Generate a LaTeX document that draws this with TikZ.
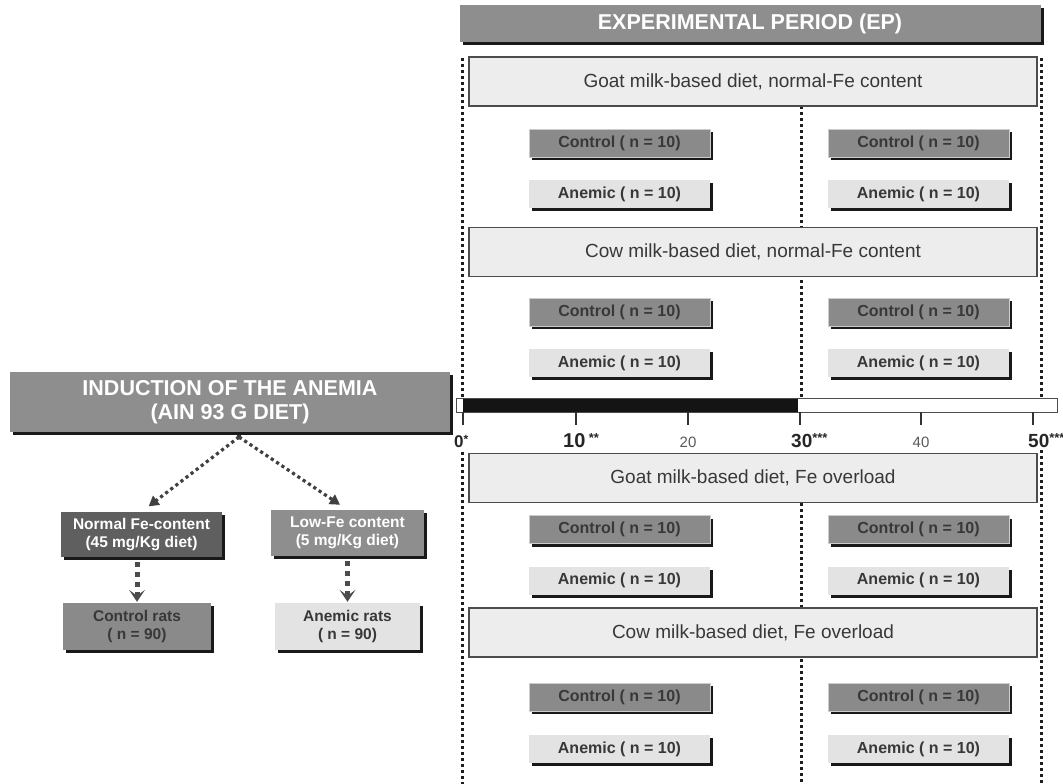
\documentclass[tikz,border=0pt]{standalone}
\usepackage{fontspec}
\setmainfont{Liberation Sans}
\usetikzlibrary{shadows,arrows.meta}
\definecolor{hdr}{HTML}{8E8E8E}
\definecolor{ctl}{HTML}{8A8A8A}
\definecolor{anm}{HTML}{E3E3E3}
\definecolor{diet}{HTML}{EDEDED}
\definecolor{nfe}{HTML}{5F5F5F}
\definecolor{txt}{HTML}{383838}
\definecolor{dots}{HTML}{1E1E1E}
\newcommand{\fs}[1]{\fontsize{#1}{#1}\selectfont}
\tikzset{
  shad/.style={drop shadow={shadow xshift=3pt,shadow yshift=-3pt,fill=black!90,opacity=1}},
  headbox/.style={shad,fill=hdr,text=white,font=\fs{21.5}\bfseries,align=center,inner sep=0pt},
  dietbox/.style={fill=diet,draw=black!70,line width=1.2pt,minimum width=568pt,minimum height=49pt,text=txt,font=\fs{19},inner sep=0pt},
  ctlbox/.style={shad,fill=ctl,draw=black!20,line width=0.4pt,minimum width=181pt,minimum height=28pt,text=txt,font=\fs{16}\bfseries,inner sep=0pt},
  anmbox/.style={shad,fill=anm,minimum width=181pt,minimum height=28pt,text=txt,font=\fs{16}\bfseries,inner sep=0pt},
  smallbox/.style={shad,align=center,font=\fs{15.5}\bfseries,inner sep=0pt},
  vdots/.style={draw=dots,line width=3pt,dash pattern=on 3pt off 3pt},
  thinarrow/.style={draw=black!75,line width=3.2pt,dash pattern=on 3.2pt off 3.2pt,-{Triangle[length=10pt,width=11pt]}},
  thickarrow/.style={draw=black!70,line width=5pt,dash pattern=on 5pt off 5pt,-{Stealth[length=12pt,width=16pt,inset=6pt,line width=0pt]}},
  tick/.style={draw=black!80,line width=1.3pt},
}
\begin{document}
\begin{tikzpicture}[x=1pt,y=-1pt]
\useasboundingbox (0,0) rectangle (1063,784);
% dotted vertical lines
\coordinate (l1) at (462,58); \coordinate (l2) at (462,398);
\coordinate (l3) at (462,452); \coordinate (l4) at (462,784);
\coordinate (m1) at (801,106); \coordinate (m2) at (801,398);
\coordinate (m3) at (801,503); \coordinate (m4) at (801,784);
\coordinate (r1) at (1041,58); \coordinate (r2) at (1041,402);
\coordinate (r3) at (1041,450); \coordinate (r4) at (1041,784);
\draw[vdots] (l1) -- (l2); \draw[vdots] (l3) -- (l4);
\draw[vdots] (m1) -- (m2); \draw[vdots] (m3) -- (m4);
\draw[vdots] (r1) -- (r2); \draw[vdots] (r3) -- (r4);

% header
\node[headbox,minimum width=581pt,minimum height=37pt] (ep) at (750,23.5) {EXPERIMENTAL PERIOD (EP)};

% diet boxes
\node[dietbox] (d1) at (753,81.5) {Goat milk-based diet, normal-Fe content};
\node[dietbox] (d2) at (753,252) {Cow milk-based diet, normal-Fe content};
\node[dietbox] (d3) at (753,478) {Goat milk-based diet, Fe overload};
\node[dietbox] (d4) at (753,632.5) {Cow milk-based diet, Fe overload};

% group boxes
\foreach \r/\yc/\ya in {1/143/194,2/312/363,3/529.5/580.5,4/697/749}{
  \node[ctlbox] (cl\r) at (619.5,\yc) {Control ( n = 10)};
  \node[ctlbox] (cr\r) at (918.5,\yc) {Control ( n = 10)};
  \node[anmbox] (al\r) at (619.5,\ya) {Anemic ( n = 10)};
  \node[anmbox] (ar\r) at (918.5,\ya) {Anemic ( n = 10)};
}

% timeline bar
\node[draw=black!70,line width=0.9pt,fill=white,minimum width=601pt,minimum height=14pt,inner sep=0pt] (bar) at (756.5,405) {};
\fill[black!92] (463,398.5) rectangle (798,411.5);
\foreach \x/\n in {463/t0,576/t10,688/t20,800/t30,921/t40,1033/t50}{
  \coordinate (\n a) at (\x,412); \coordinate (\n b) at (\x,425);
  \draw[tick] (\n a) -- (\n b);
}
\node[anchor=base west,font=\fs{17}\bfseries,text=black!85,inner sep=0pt] (n0) at (454,447) {0\raisebox{4pt}{\fs{12}*}};
\node[anchor=base west,font=\fs{20}\bfseries,text=black!85,inner sep=0pt] (n10) at (563,447) {10\,\raisebox{5pt}{\fs{13}**}};
\node[anchor=base,font=\fs{15},text=black!65] (n20) at (688,447) {20};
\node[anchor=base west,font=\fs{19}\bfseries,text=black!85,inner sep=0pt] (n30) at (791,447) {30\raisebox{5pt}{\fs{13}***}};
\node[anchor=base,font=\fs{15},text=black!65] (n40) at (921,447) {40};
\node[anchor=base west,font=\fs{19}\bfseries,text=black!85,inner sep=0pt] (n50) at (1028,447) {50\raisebox{5pt}{\fs{13}***}};

% left part
\node[headbox,minimum width=440pt,minimum height=60pt] (ind) at (230,402) {INDUCTION OF THE ANEMIA\\[3pt](AIN 93 G DIET)};
\node[smallbox,fill=nfe,text=white,minimum width=161pt,minimum height=45pt] (nfe) at (141.5,534.5) {Normal Fe-content\\[3pt](45 mg/Kg diet)};
\node[smallbox,fill=hdr,text=white,minimum width=153pt,minimum height=46pt] (lfe) at (347.5,533) {Low-Fe content\\[3pt](5 mg/Kg diet)};
\node[smallbox,fill=ctl,text=txt,minimum width=148pt,minimum height=47pt] (crat) at (137,626.5) {Control rats\\[3pt]( n = 90)};
\node[smallbox,fill=anm,text=txt,minimum width=145pt,minimum height=47pt] (arat) at (347.5,626.5) {Anemic rats\\[3pt]( n = 90)};

\coordinate (apex) at (239,437);
\fill[black!80] (apex) circle (2.5pt);
\draw[thinarrow,shorten >=9pt] (apex) -- (nfe.north);
\draw[thinarrow,shorten >=9pt] (apex) -- (lfe.north);
\draw[thickarrow,shorten <=5pt,shorten >=1pt] (nfe.south -| crat.north) -- (crat.north);
\draw[thickarrow,shorten <=5pt,shorten >=1pt] (lfe.south) -- (arat.north);
\end{tikzpicture}
\end{document}
